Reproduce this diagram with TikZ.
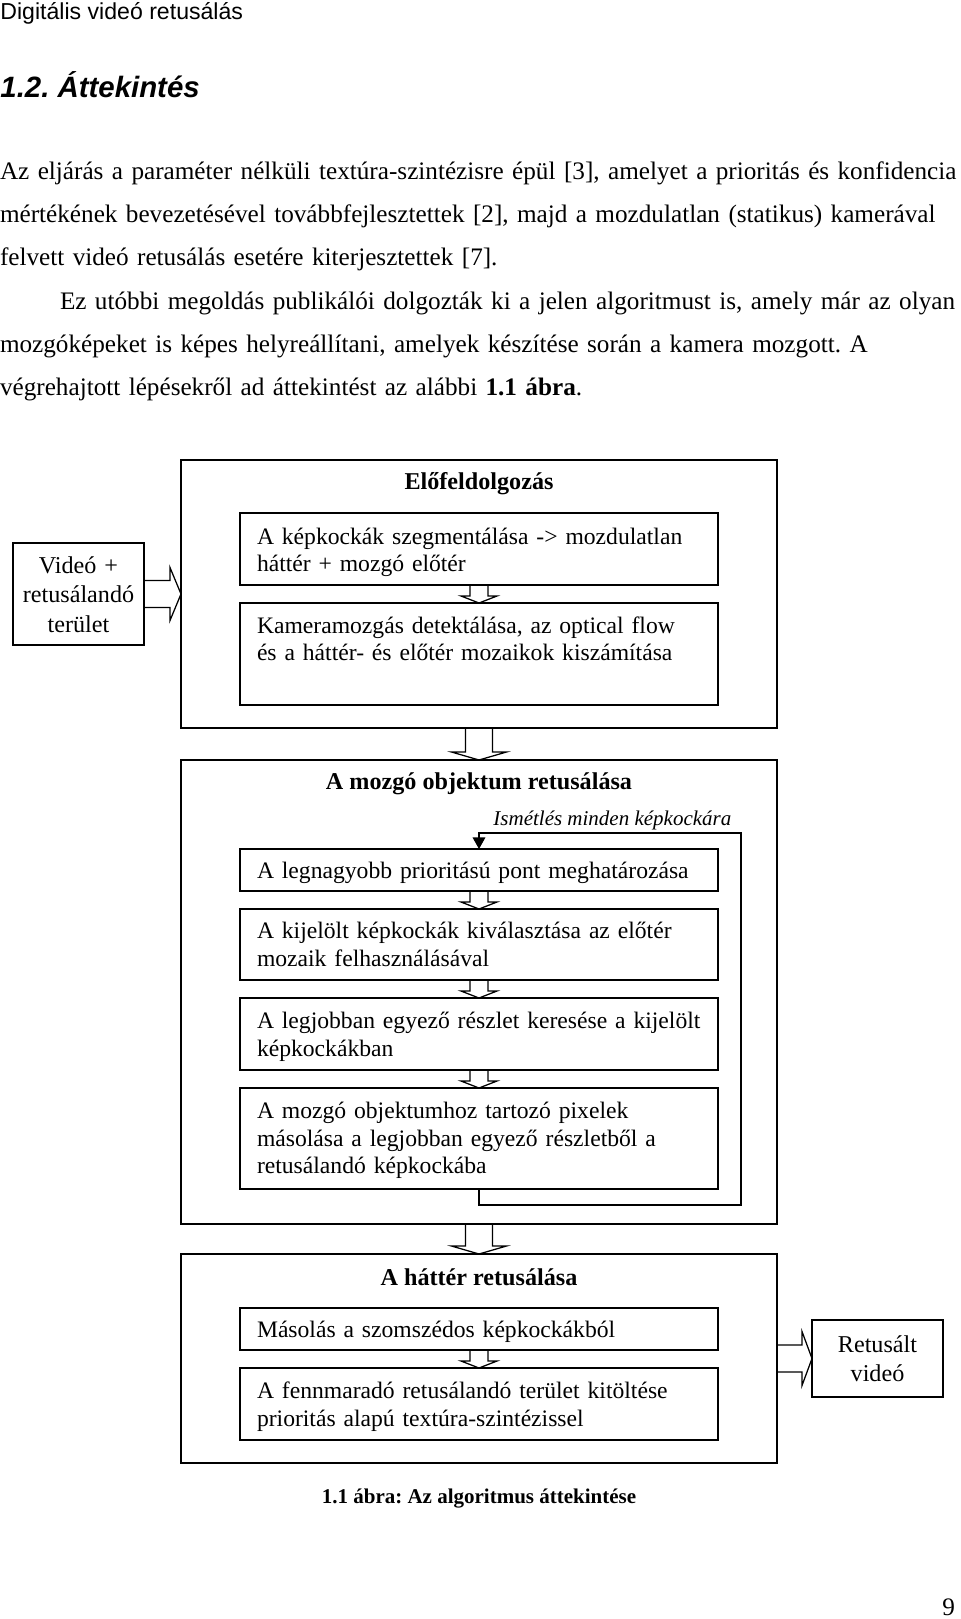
\documentclass[tikz,border=0pt]{standalone}
\usepackage{fontspec}
\setmainfont{Liberation Serif}
\setsansfont{Liberation Sans}
\usetikzlibrary{calc,arrows.meta}
\newdimen\px \px=0.47619pt
\frenchspacing
% vertical block arrow: from, to, shaft half width, head half width, head length
\newcommand\downblock[5]{%
  \draw[harrow] ($(#1.south)+(-#3,0)$) -- ($(#2.north)+(-#3,-#5)$) -- ($(#2.north)+(-#4,-#5)$) -- (#2.north) -- ($(#2.north)+(#4,-#5)$) -- ($(#2.north)+(#3,-#5)$) -- ($(#1.south)+(#3,0)$);}
% horizontal block arrow
\newcommand\rightblock[5]{%
  \draw[harrow] ($(#1.east)+(0,-#3)$) -- ($(#2.west)+(-#5,-#3)$) -- ($(#2.west)+(-#5,-#4)$) -- (#2.west) -- ($(#2.west)+(-#5,#4)$) -- ($(#2.west)+(-#5,#3)$) -- ($(#1.east)+(0,#3)$);}
\begin{document}
\begin{tikzpicture}[x=0.47619pt,y=-0.47619pt,
  box/.style={draw, line width=0.6pt, rectangle, inner sep=0pt, outer sep=0pt, anchor=north west},
  dtext/.style={anchor=base west, inner sep=0pt, outer sep=0pt, text width=455\px, align=left, font=\frenchspacing\fontsize{11.25}{13.33}\selectfont},
  ctext/.style={anchor=base, inner sep=0pt, outer sep=0pt, text width=125\px, align=center, font=\fontsize{11.5}{14.05}\selectfont},
  dtitle/.style={anchor=base, inner sep=0pt, font=\fontsize{11.5}{13.33}\selectfont\bfseries},
  harrow/.style={draw, line width=0.6pt, line join=miter},
  para/.style={anchor=base west, inner sep=0pt, outer sep=0pt, text width=955\px, align=left, font=\frenchspacing\fontsize{12}{20.7}\selectfont},
  loopline/.style={draw, line width=0.6pt, -{Triangle[length=5.5pt,width=6pt]}},
]
\useasboundingbox (0,0) rectangle (960,1619);

% page header and text
\node[anchor=base west, inner sep=0pt, font=\sffamily\fontsize{11}{13}\selectfont] (hdr) at (0,20) {Digitális videó retusálás};
\node[anchor=base west, inner sep=0pt, font=\frenchspacing\sffamily\bfseries\itshape\fontsize{14}{17}\selectfont] (sec) at (0,98) {1.2. Áttekintés};
\node[para] (p1) at (0,179) {\makebox[\linewidth][s]{Az eljárás a paraméter nélküli textúra-szintézisre épül [3], amelyet a prioritás és konfidencia}\\
\makebox[\linewidth][s]{mértékének bevezetésével továbbfejlesztettek [2], majd a mozdulatlan (statikus) kamerával}\\
felvett videó retusálás esetére kiterjesztettek [7].};
\node[para] (p2) at (0,309) {\hspace*{60\px}\makebox[\dimexpr\linewidth-60\px\relax][s]{Ez utóbbi megoldás publikálói dolgozták ki a jelen algoritmust is, amely már az olyan}\\
\makebox[\linewidth][s]{mozgóképeket is képes helyreállítani, amelyek készítése során a kamera mozgott. A}\\
végrehajtott lépésekről ad áttekintést az alábbi \textbf{1.1 ábra}.};

% input
\node[box, minimum width=131\px, minimum height=102\px] (vid) at (13,543) {};
\node[ctext] (vidt) at (78.5,573) {Videó +\\retusálandó\\terület};

% block 1
\node[box, minimum width=596\px, minimum height=268\px] (pre) at (181,460) {};
\node[dtitle] (pret) at (479,489) {Előfeldolgozás};
\node[box, minimum width=478\px, minimum height=72\px] (s1) at (240,513) {};
\node[dtext] (s1t) at (257,544) {A képkockák szegmentálása -> mozdulatlan\\háttér + mozgó előtér};
\node[box, minimum width=478\px, minimum height=102\px] (s2) at (240,603) {};
\node[dtext] (s2t) at (257,633) {Kameramozgás detektálása, az optical flow\\és a háttér- és előtér mozaikok kiszámítása};

% block 2
\node[box, minimum width=596\px, minimum height=464\px] (mov) at (181,760) {};
\node[dtitle] (movt) at (479,789) {A mozgó objektum retusálása};
\node[anchor=base west, inner sep=0pt, font=\fontsize{10}{12}\selectfont\itshape] (rep) at (493,825) {Ismétlés minden képkockára};
\node[box, minimum width=478\px, minimum height=42\px] (ma) at (240,849) {};
\node[dtext] (mat) at (257,878) {A legnagyobb prioritású pont meghatározása};
\node[box, minimum width=478\px, minimum height=71\px] (mb) at (240,909) {};
\node[dtext] (mbt) at (257,938) {A kijelölt képkockák kiválasztása az előtér\\mozaik felhasználásával};
\node[box, minimum width=478\px, minimum height=72\px] (mc) at (240,998) {};
\node[dtext] (mct) at (257,1028) {A legjobban egyező részlet keresése a kijelölt\\képkockákban};
\node[box, minimum width=478\px, minimum height=101\px] (md) at (240,1088) {};
\node[dtext] (mdt) at (257,1118) {A mozgó objektumhoz tartozó pixelek\\másolása a legjobban egyező részletből a\\retusálandó képkockába};
\coordinate (loopbot) at (741,1205);
\coordinate (looptop) at (741,833);

% block 3
\node[box, minimum width=596\px, minimum height=209\px] (bg) at (181,1254) {};
\node[dtitle] (bgt) at (479,1285) {A háttér retusálása};
\node[box, minimum width=478\px, minimum height=42\px] (ba) at (240,1308) {};
\node[dtext] (bat) at (257,1337) {Másolás a szomszédos képkockákból};
\node[box, minimum width=478\px, minimum height=72\px] (bb) at (240,1368) {};
\node[dtext] (bbt) at (257,1398) {A fennmaradó retusálandó terület kitöltése\\prioritás alapú textúra-szintézissel};

% output
\node[box, minimum width=131\px, minimum height=77\px] (out) at (812,1320) {};
\node[ctext] (outt) at (877.5,1352) {Retusált\\videó};

% caption and page number
\node[anchor=base, inner sep=0pt, font=\frenchspacing\fontsize{10}{12}\selectfont\bfseries] (cap) at (479,1503) {1.1 ábra: Az algoritmus áttekintése};
\node[anchor=base west, inner sep=0pt, font=\fontsize{12}{14}\selectfont] (pg) at (942,1615) {9};

% connectors
\rightblock{vid}{pre}{13.5}{26.5}{11}
\downblock{s1}{s2}{9}{18}{7}
\downblock{pre}{mov}{13.5}{27.5}{8}
\downblock{ma}{mb}{9}{18}{7}
\downblock{mb}{mc}{9}{18}{7}
\downblock{mc}{md}{9}{18}{7}
\downblock{mov}{bg}{13.5}{27.5}{8}
\downblock{ba}{bb}{9}{18}{7}
\rightblock{bg}{out}{13.5}{27}{10}
\draw[loopline] (md.south) |- (loopbot) -- (looptop) -| (ma.north);
\end{tikzpicture}
\end{document}
